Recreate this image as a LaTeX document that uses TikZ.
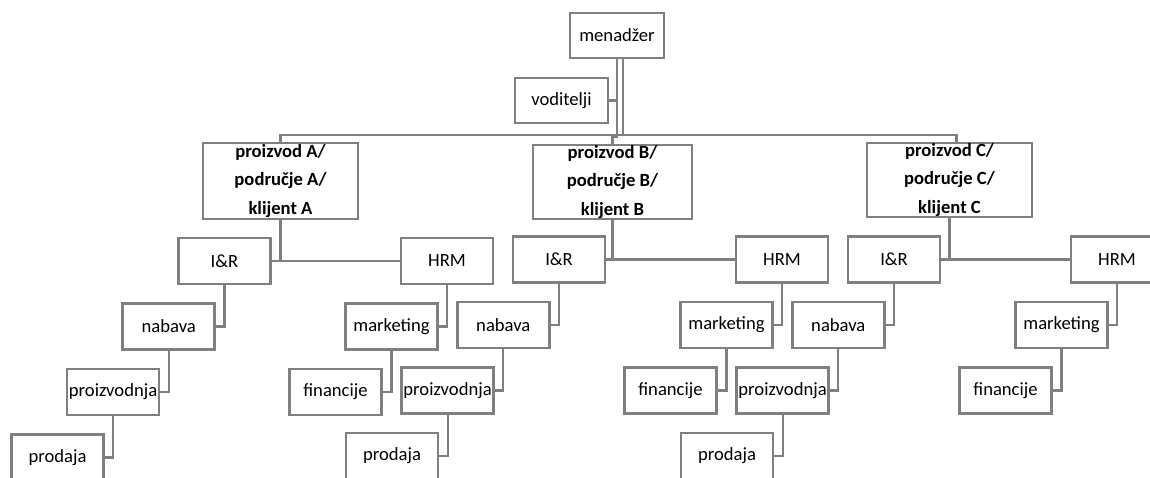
\documentclass[tikz,border=0pt]{standalone}
\usepackage{fontspec}
\setmainfont{Carlito}
\definecolor{boxgray}{RGB}{128,128,128}
\tikzset{
  box/.style={draw=boxgray, line width=1.5pt, fill=white, minimum width=1.84cm, minimum height=0.92cm, inner sep=0pt, font=\fontsize{10.6}{13}\selectfont},
  unitbox/.style={box, align=center, font=\bfseries\fontsize{10.6}{16}\selectfont},
  link/.style={draw=boxgray, line width=1.25pt}
}
\begin{document}
\begin{tikzpicture}[x=0.02cm,y=-0.02cm]
        \useasboundingbox (0,0) rectangle (1150,477);
        \clip (0,0) rectangle (1150,477);
        \node[box, minimum width=1.88cm, minimum height=0.9cm] (menadzer) at (617,35.5) {menadžer};
        \node[box, minimum width=1.86cm, minimum height=0.9cm] (voditelji) at (561.5,100.5) {voditelji};
        \node[unitbox, minimum width=3.1cm, minimum height=1.52cm] (prodA) at (280.5,181) {proizvod A/\\područje A/\\klijent A};
        \node[unitbox, minimum width=3.18cm, minimum height=1.48cm] (prodB) at (612.5,182) {proizvod B/\\područje B/\\klijent B};
        \node[unitbox, minimum width=3.3cm, minimum height=1.48cm] (prodC) at (949.5,180) {proizvod C/\\područje C/\\klijent C};
        \coordinate (bus) at (623,135);
        \coordinate (jog) at (617,137);
        \draw[link] (menadzer.south) |- (voditelji.east);
        \draw[link] (menadzer.south) -- (jog) -| (prodB.north);
        \draw[link] (menadzer.south -| bus) -- (bus);
        \draw[link] (prodA.north) |- (bus) -| ([xshift=0.14cm]prodC.north);
        \foreach \g/\ix/\hx/\dy in {A/224.5/447/1.5, B/559/782/0, C/894/1117/0}
        {
            \node[box] (ir\g) at (\ix,{259.5+\dy}) {I\&R};
            \node[box] (hrm\g) at (\hx,{259.5+\dy}) {HRM};
            \node[box] (nabava\g) at ({\ix-55.7},{325+\dy}) {nabava};
            \node[box] (proizvodnja\g) at ({\ix-111.4},{390.5+\dy}) {proizvodnja};
            \node[box] (prodaja\g) at ({\ix-167},{456+\dy}) {prodaja};
            \node[box] (marketing\g) at ({\hx-55.5},{325+\dy}) {marketing};
            \node[box] (financije\g) at ({\hx-111.5},{390.5+\dy}) {financije};
            \draw[link] (prod\g.south) |- (ir\g.east);
            \draw[link] (prod\g.south) |- (hrm\g.west);
            \draw[link] (ir\g.south) |- (nabava\g.east);
            \draw[link] (nabava\g.south) |- (proizvodnja\g.east);
            \draw[link] (proizvodnja\g.south) |- (prodaja\g.east);
            \draw[link] (hrm\g.south) |- (marketing\g.east);
            \draw[link] (marketing\g.south) |- (financije\g.east);
        }
\end{tikzpicture}
\end{document}
